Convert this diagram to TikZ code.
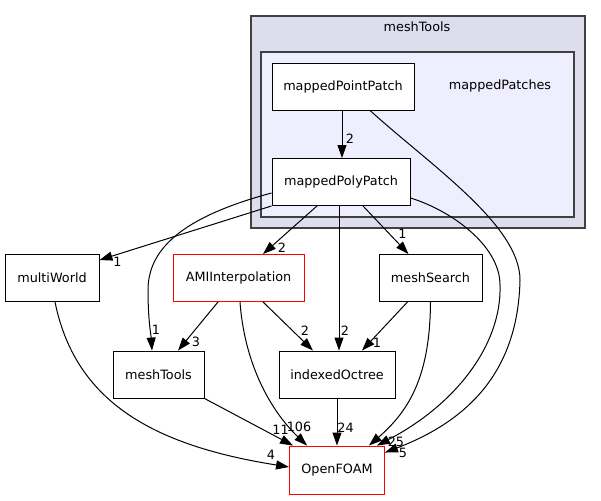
\documentclass[tikz,border=0pt]{standalone}
\usepackage{fontspec}
\setmainfont{DejaVu Sans}
\usetikzlibrary{arrows.meta}
\definecolor{outerfill}{HTML}{DDDDEE}
\definecolor{innerfill}{HTML}{EEEEFF}
\tikzstyle{dir} = [rectangle, minimum height = 47pt, inner sep = 0pt, text centered, draw = black, fill = white, line width = 0.9pt]
\tikzstyle{reddir} = [dir, draw = red]
\tikzstyle{cluster} = [draw = black!75, line width = 1.4pt]
\tikzstyle{num} = [inner sep = 0pt]
\tikzstyle{arrow} = [line width = 1pt, -{Triangle[length = 13pt, width = 9pt]}]

\begin{document}
\begin{tikzpicture}[x = 1pt, y = -1pt, font = \fontsize{12.8}{15}\selectfont]
\useasboundingbox (0, 0) rectangle (601, 500);

%CLUSTERS
\draw [cluster, fill = outerfill] (251, 16) rectangle (585, 228);
\draw [cluster, fill = innerfill] (261, 52) rectangle (574, 217);
\node (meshToolsLabel) at (417, 27) {meshTools};
\node (mappedPatchesLabel) at (500, 86) {mappedPatches};

%NODES
\node (mappedPointPatch) [dir, minimum width = 142pt] at (343, 86.5) {mappedPointPatch};
\node (mappedPolyPatch) [dir, minimum width = 138pt] at (341, 182) {mappedPolyPatch};
\node (multiWorld) [dir, minimum width = 94pt] at (52, 278) {multiWorld};
\node (AMIInterpolation) [reddir, minimum width = 131pt] at (238.5, 278) {AMIInterpolation};
\node (meshSearch) [dir, minimum width = 103pt] at (430.5, 278) {meshSearch};
\node (meshTools) [dir, minimum width = 91pt] at (158.5, 374.5) {meshTools};
\node (indexedOctree) [dir, minimum width = 116pt] at (337, 374.5) {indexedOctree};
\node (OpenFOAM) [reddir, minimum width = 95pt, minimum height = 48pt] at (337, 470) {OpenFOAM};

%ARROWS
\draw [arrow] ([xshift = -1pt]mappedPointPatch.south) -- node [num, at end, xshift = 8pt, yshift = 19pt] {2} ([xshift = 1pt]mappedPolyPatch.north);
\draw [arrow] ([xshift = 27pt]mappedPointPatch.south) .. controls (430, 165) and (520, 225) .. (520, 280) .. controls (518, 370) and (470, 420) .. node [num, at end, xshift = 18pt, yshift = 0pt] {5} ([yshift = -7pt]OpenFOAM.north east);
\draw [arrow] (mappedPolyPatch.south west) -- node [num, at end, xshift = 18pt, yshift = -2pt] {1} ([yshift = -6pt]multiWorld.north east);
\draw [arrow] ([yshift = -11pt]mappedPolyPatch.west) .. controls (190, 215) and (148, 245) .. (148, 290) .. controls (148, 320) and (151, 335) .. node [num, at end, xshift = 4pt, yshift = 21pt] {1} ([xshift = -6.5pt]meshTools.north);
\draw [arrow] ([xshift = -24pt]mappedPolyPatch.south) -- node [num, at end, xshift = 19pt, yshift = 6pt] {2} ([xshift = 24.5pt]AMIInterpolation.north);
\draw [arrow] ([xshift = -2pt]mappedPolyPatch.south) -- node [num, at end, xshift = 6pt, yshift = 20pt] {2} ([xshift = 2pt]indexedOctree.north);
\draw [arrow] ([xshift = 22pt]mappedPolyPatch.south) -- node [num, at end, xshift = -6pt, yshift = 20pt] {1} ([xshift = -22pt]meshSearch.north);
\draw [arrow] ([yshift = -16pt]mappedPolyPatch.east) .. controls (450, 210) and (500, 245) .. (500, 285) .. controls (502, 345) and (455, 405) .. node [num, at end, xshift = 19pt, yshift = 4pt] {25} ([xshift = -8pt]OpenFOAM.north east);
\draw [arrow] ([xshift = 3pt]multiWorld.south) .. controls (75, 400) and (150, 445) .. node [num, at end, xshift = -18pt, yshift = 12pt] {4} ([yshift = 3pt]OpenFOAM.west);
\draw [arrow] ([xshift = -20.5pt]AMIInterpolation.south) -- node [num, at end, xshift = 18pt, yshift = 9pt] {3} ([xshift = 19.5pt]meshTools.north);
\draw [arrow] ([xshift = 24.5pt]AMIInterpolation.south) -- node [num, at end, xshift = -8pt, yshift = 20pt] {2} ([xshift = -24pt]indexedOctree.north);
\draw [arrow] ([xshift = 1.5pt]AMIInterpolation.south) .. controls (245, 370) and (275, 415) .. node [num, at end, xshift = -8pt, yshift = 19pt] {106} ([xshift = 18pt]OpenFOAM.north west);
\draw [arrow] ([xshift = -23pt]meshSearch.south) -- node [num, at end, xshift = 15pt, yshift = 8pt] {1} ([xshift = 25pt]indexedOctree.north);
\draw [arrow] (meshSearch.south) .. controls (430, 375) and (410, 410) .. ([xshift = -16pt]OpenFOAM.north east);
\draw [arrow] (meshTools.south east) -- node [num, at end, xshift = -12.5pt, yshift = 16pt] {11} ([xshift = 4pt]OpenFOAM.north west);
\draw [arrow] (indexedOctree.south) -- node [num, at end, xshift = 8.5pt, yshift = 18pt] {24} (OpenFOAM.north);

\end{tikzpicture}
\end{document}
